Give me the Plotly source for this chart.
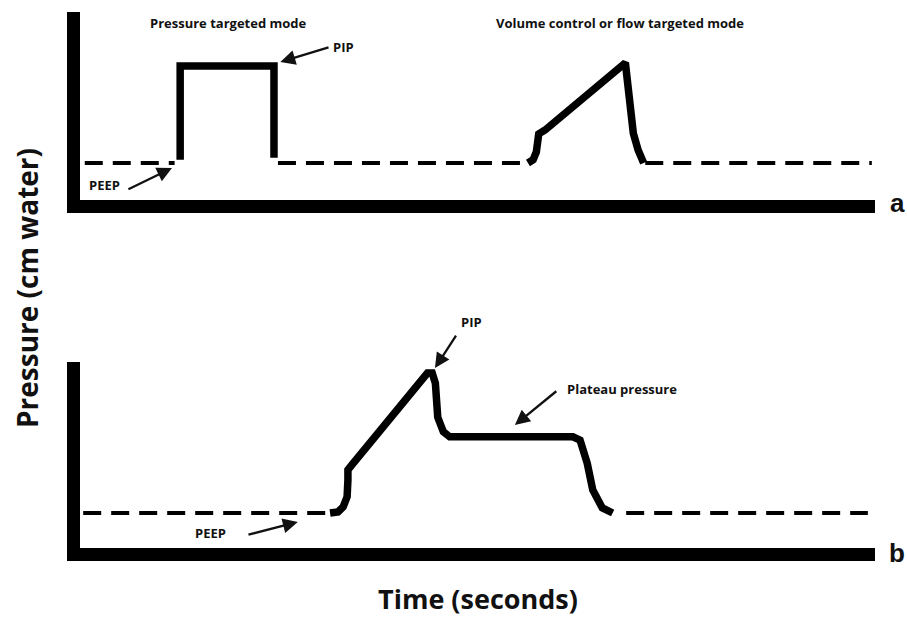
import plotly.graph_objects as go

# ---------------- data (time in s, pressure in cm H2O) ----------------
PEEP = 5

# Panel a: pressure-targeted breath + volume-control breath
a_peep1_t = [0.06, 1.19]
a_press_t = [1.26, 1.26, 2.44, 2.44]
a_press_p = [5.5, 20.0, 20.0, 5.8]
a_peep2_t = [2.49, 5.58]
a_vol_t = [5.635, 5.70, 5.74, 5.75, 5.77, 5.85, 6.86, 6.88, 6.92, 6.96, 7.02, 7.07, 7.09]
a_vol_p = [5.0, 5.5, 6.7, 8.6, 9.5, 10.1, 20.5, 18.3, 13.2, 9.6, 7.0, 5.9, 5.0]
a_peep3_t = [7.11, 9.96]

# Panel b: volume-control breath with inspiratory pause
b_peep1_t = [0.04, 3.12]
b_vol_t = [3.145, 3.245, 3.31, 3.36, 3.37, 3.37, 3.42, 4.37, 4.43, 4.47, 4.50, 4.57, 4.65,
           6.20, 6.29, 6.38, 6.45, 6.57, 6.70]
b_vol_p = [5.0, 5.2, 6.1, 7.9, 10.9, 12.7, 13.6, 30.0, 30.0, 28.2, 22.1, 19.5, 18.6,
           18.6, 18.0, 13.9, 9.1, 5.9, 5.0]
b_peep2_t = [6.87, 9.91]

# ---------------- layout geometry (pixels in the 907x618 window) ----------------
W, H = 907, 618
def fx(px):
    return px / W
def fy(py):
    return 1 - py / H

X_L, X_R = 80, 875
A_TOP, A_BOT = 12, 200
B_TOP, B_BOT = 362, 548
# y-ranges chosen so PEEP / PIP levels fall on the drawn pixel rows
a_scale = (163 - 66) / 15.0
a_rng = [PEEP - (A_BOT - 163) / a_scale, 20 + (66 - A_TOP) / a_scale]
b_scale = (513 - 373) / 25.0
b_rng = [PEEP - (B_BOT - 513) / b_scale, 30 + (373 - B_TOP) / b_scale]

FONT = "Open Sans"
SOLID = dict(color="black", width=7.5)
DASH = dict(color="black", width=4, dash="18px,10px")

fig = go.Figure()

def add(x, y, line, xa="x", ya="y"):
    fig.add_trace(go.Scatter(x=x, y=y, mode="lines", line=line, xaxis=xa, yaxis=ya,
                             hoverinfo="skip", showlegend=False))

add(a_peep1_t, [PEEP] * 2, DASH)
add(a_press_t, a_press_p, SOLID)
add(a_peep2_t, [PEEP] * 2, DASH)
add(a_vol_t, a_vol_p, SOLID)
add(a_peep3_t, [PEEP] * 2, DASH)

add(b_peep1_t, [PEEP] * 2, DASH, "x2", "y2")
add(b_vol_t, b_vol_p, SOLID, "x2", "y2")
add(b_peep2_t, [PEEP] * 2, DASH, "x2", "y2")

ax_common = dict(showline=True, linewidth=13, linecolor="black", showgrid=False,
                 zeroline=False, showticklabels=False, ticks="", fixedrange=True)

fig.update_layout(
    width=W, height=H, margin=dict(l=0, r=0, t=0, b=0),
    paper_bgcolor="white", plot_bgcolor="white", showlegend=False,
    xaxis=dict(domain=[fx(X_L), fx(X_R)], range=[0, 10], anchor="y", **ax_common),
    yaxis=dict(domain=[fy(A_BOT), fy(A_TOP)], range=a_rng, anchor="x", **ax_common),
    xaxis2=dict(domain=[fx(X_L), fx(X_R)], range=[0, 10], anchor="y2", **ax_common),
    yaxis2=dict(domain=[fy(B_BOT), fy(B_TOP)], range=b_rng, anchor="x2", **ax_common),
)

def label(text, px, py, size=13, family=FONT, angle=0):
    fig.add_annotation(text=text, x=fx(px), y=fy(py), xref="paper", yref="paper",
                       showarrow=False, textangle=angle, xanchor="center", yanchor="middle",
                       font=dict(family=family, size=size, color="#111", weight="bold"))

def arrow(tail, tip, xa="x", ya="y"):
    fig.add_annotation(text="", x=tip[0], y=tip[1], ax=tail[0], ay=tail[1],
                       xref=xa, yref=ya, axref=xa, ayref=ya, showarrow=True,
                       arrowhead=2, arrowsize=1.3, arrowwidth=2.3, arrowcolor="#111")

label("Pressure targeted mode", 228, 23)
label("Volume control or flow targeted mode", 620, 23)
label("PIP", 343, 47)
label("PEEP", 104, 185)
label("PIP", 471, 322)
label("Plateau pressure", 622, 389)
label("PEEP", 210, 533)
label("a", 897, 203, size=26, family="Liberation Sans")
label("b", 897, 553, size=26, family="Liberation Sans")
label("Pressure (cm water)", 27, 288, size=28, angle=-90)
label("Time (seconds)", 478, 598, size=27)

arrow((3.145, 22.94), (2.52, 20.62))
arrow((0.59, 0.83), (1.157, 4.23))
arrow((4.742, 36.96), (4.465, 30.89), "x2", "y2")
arrow((6.01, 26.96), (5.47, 20.71), "x2", "y2")
arrow((2.10, 1.07), (2.74, 3.39), "x2", "y2")

# remove the default page margin so the 907x618 figure fills the window exactly
fig.write_html("out.html", config={"displayModeBar": False, "staticPlot": True},
               post_script="document.body.style.margin='0px';")
